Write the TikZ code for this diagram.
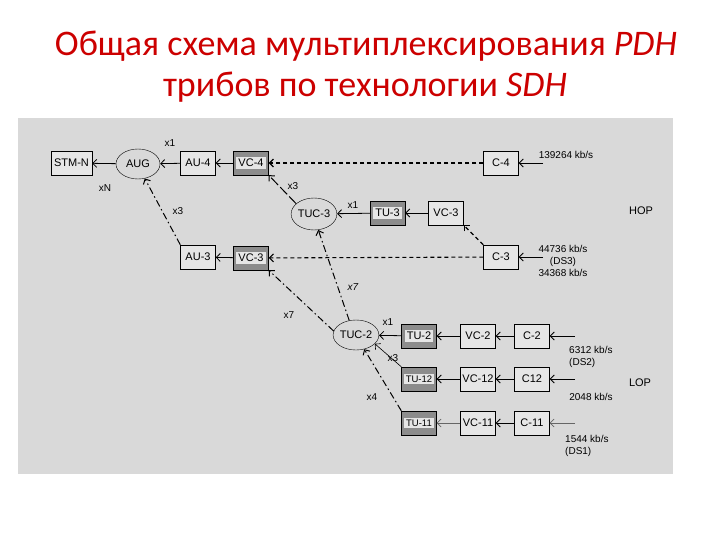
\documentclass[tikz,border=0pt]{standalone}
\usepackage{fontspec}
\setmainfont{Liberation Sans}
\newfontfamily\titlefont{Carlito}
\usetikzlibrary{arrows.meta,shapes.geometric}
\definecolor{panelbg}{HTML}{D9D9D9}
\definecolor{boxlight}{HTML}{E6E6E6}
\definecolor{boxdark}{HTML}{8C8C8C}
\definecolor{titlered}{HTML}{CC0000}
\newcommand{\lite}[1]{{\setlength{\fboxsep}{2pt}\colorbox{boxlight}{#1}}}

\begin{document}
\begin{tikzpicture}[x=1pt,y=-1pt,font=\fontsize{11}{12}\selectfont,
    blk/.style={draw, fill=boxlight, minimum width=35, minimum height=24, inner sep=1pt},
    dblk/.style={blk, fill=boxdark, inner sep=1.5pt},
    grp/.style={draw, ellipse, minimum width=44, minimum height=30, inner sep=0pt},
    conn/.style={-{Straight Barb[length=4pt,width=8pt]}, line width=0.8pt},
    dashln/.style={conn, line width=1.1pt, dash pattern=on 4pt off 3pt},
    longdash/.style={conn, line width=1pt, dash pattern=on 10pt off 3pt},
    dashdot/.style={conn, line width=1pt, dash pattern=on 7pt off 3pt on 1.5pt off 3pt},
    titletxt/.style={text=titlered, font=\titlefont\fontsize{36}{42}\selectfont},
    lbl/.style={font=\fontsize{10}{12}\selectfont, inner sep=0pt}]
    \useasboundingbox (0,0) rectangle (720,540);
    \fill[white] (0,0) rectangle (720,540);
    \fill[panelbg] (18,118) rectangle (673,474);

    % title
    \node[titletxt] (title1) at (366,46) {Общая схема мультиплексирования \textit{PDH}};
    \node[titletxt] (title2) at (365,87) {трибов по технологии \textit{SDH}};

    % HOP level
    \node[blk, minimum width=41] (stm) at (71.5,163) {STM-N};
    \node[grp] (aug) at (138,164) {AUG};
    \node[blk] (au4) at (198,163) {AU-4};
    \node[dblk] (vc4) at (251,163) {\lite{VC-4}};
    \node[blk] (c4) at (501,163) {C-4};
    \coordinate (in4) at (543,163);

    \node[grp, minimum width=42, minimum height=32] (tuc3) at (314,214) {TUC-3};
    \node[dblk] (tu3) at (387.5,213) {\lite{TU-3}};
    \node[blk] (vc3r) at (446,213) {VC-3};

    \node[blk] (au3) at (198,257) {AU-3};
    \node[dblk] (vc3l) at (251,258) {\lite{VC-3}};
    \node[blk] (c3) at (501,257) {C-3};
    \coordinate (in3) at (543,257);

    % LOP level
    \node[grp] (tuc2) at (356,335) {TUC-2};
    \node[dblk] (tu2) at (419,336) {\lite{TU-2}};
    \node[blk] (vc2) at (478,336) {VC-2};
    \node[blk] (c2) at (532,336) {C-2};
    \coordinate (in2) at (575,336);

    \node[dblk] (tu12) at (419,379) {\lite{\fontsize{9.5}{11}\selectfont TU-12}};
    \node[blk] (vc12) at (478,379) {VC-12};
    \node[blk] (c12) at (532,379) {C12};
    \coordinate (in12) at (575,379);

    \node[dblk] (tu11) at (419,423) {\lite{\fontsize{9.5}{11}\selectfont TU-11}};
    \node[blk] (vc11) at (478,423) {VC-11};
    \node[blk] (c11) at (532,423) {C-11};
    \coordinate (in11) at (575,423);

    % rates and levels
    \node[lbl] (r4) at (566,155) {139264 kb/s};
    \node[lbl, align=center] (r3) at (563,261) {44736 kb/s\\(DS3)\\34368 kb/s};
    \node[lbl, align=left, anchor=west] (r2) at (569,357) {6312 kb/s\\(DS2)};
    \node[lbl] (r12) at (591,397) {2048 kb/s};
    \node[lbl, align=left, anchor=west] (r11) at (565,446) {1544 kb/s\\(DS1)};
    \node[lbl, font=\fontsize{11}{12}\selectfont] (hop) at (641,211) {HOP};
    \node[lbl, font=\fontsize{11}{12}\selectfont] (lop) at (640,383) {LOP};

    % connectors
    \draw[conn] (aug) -- (stm);
    \draw[conn] (au4) -- (aug);
    \draw[conn] (vc4) -- (au4);
    \draw[dashln] (c4) -- (vc4);
    \draw[conn] (in4) -- (c4);
    \draw[longdash] (tuc3.150) -- (vc4.south east);
    \draw[dashdot] (au3.north west) -- (aug.-65);
    \draw[conn] (vc3l) -- (au3);
    \draw[dashln] (c3) -- (vc3l);
    \draw[conn] (in3) -- (c3);
    \draw[conn] (tu3) -- (tuc3);
    \draw[conn] (vc3r) -- (tu3);
    \draw[dashln] (c3.north west) -- (vc3r.south east);
    \draw[dashdot] (tuc2.170) -- (vc3l.south east);
    \draw[dashdot] (tuc2.115) -- (tuc3.-75);
    \draw[conn] (tu2) -- (tuc2);
    \draw[conn] (vc2) -- (tu2);
    \draw[conn] (c2) -- (vc2);
    \draw[conn] (in2) -- (c2);
    \draw[conn, line width=0.6pt] (tu12.north west) -- (tuc2.-25);
    \draw[dashdot] (tu11.north west) -- (tuc2.-60);
    \draw[conn] (vc12) -- (tu12);
    \draw[conn] (c12) -- (vc12);
    \draw[conn] (in12) -- (c12);
    \draw[conn, draw=black!60, line width=0.6pt] (vc11) -- (tu11);
    \draw[conn] (c11) -- (vc11);
    \draw[conn, draw=black!60, line width=0.6pt] (in11) -- (c11);

    % multiplicity labels
    \node[lbl] (m1) at (170,143) {x1};
    \node[lbl] (mN) at (105,188) {xN};
    \node[lbl] (m2) at (178,211) {x3};
    \node[lbl] (m3) at (293,186) {x3};
    \node[lbl] (m4) at (353,205) {x1};
    \node[lbl] (m5) at (289,315) {x7};
    \node[lbl] (m6) at (353,287) {\textit{x7}};
    \node[lbl] (m7) at (388,322) {x1};
    \node[lbl] (m8) at (393,358) {x3};
    \node[lbl] (m9) at (372,397) {x4};
\end{tikzpicture}
\end{document}
